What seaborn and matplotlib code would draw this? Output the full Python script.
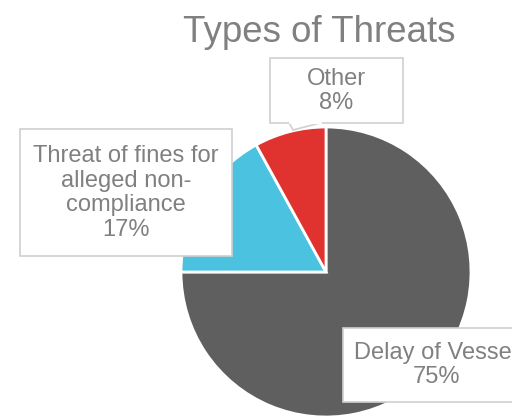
import matplotlib
matplotlib.use('Agg')
import matplotlib.pyplot as plt
import matplotlib.patches as mpatches
import seaborn as sns

# data
categories = ['Delay of Vessel', 'Threat of fines for\nalleged non-\ncompliance', 'Other']
shares = [75, 17, 8]
colors = ['#5f5f5f', '#4bc3e0', '#e0332f']
title = 'Types of Threats'

sns.set_theme(style='white')
plt.rcParams['font.family'] = ['Liberation Sans', 'DejaVu Sans']

W, H = 512, 417
text_color = '#808080'
box_edge = '#d0d0d0'

fig = plt.figure(figsize=(W / 100, H / 100), dpi=100)
fig.set_facecolor('white')
ax = fig.add_axes([0, 0, 1, 1])

# pie in pixel space (y measured from bottom)
cx, cy, r = 326, H - 272, 145
ax.pie(shares, colors=colors, startangle=90, counterclock=False,
       center=(cx, cy), radius=r, frame=True,
       wedgeprops=dict(edgecolor='white', linewidth=2))
ax.set_xlim(0, W)
ax.set_ylim(0, H)
ax.set_aspect('auto')
ax.axis('off')

ax.text(319, H - 32, title, ha='center', va='center', fontsize=26.4, color=text_color)


def label_box(x0, y0, x1, y1, text, tx, ty):
    # box given in pixel coords from top-left
    rect = mpatches.Rectangle((x0, H - y1), x1 - x0, y1 - y0, facecolor='white',
                              edgecolor=box_edge, linewidth=1.2, zorder=5)
    ax.add_patch(rect)
    ax.text(tx, H - ty, text, ha='center', va='center', fontsize=17,
            color=text_color, linespacing=1.15, zorder=6)


labels = [f'{c}\n{s}%' for c, s in zip(categories, shares)]

# Other (with callout pointer)
label_box(270, 58, 403, 123, labels[2], 336.5, 91)
pointer = mpatches.Polygon([(289, H - 122.5), (293, H - 130), (322, H - 122.5)],
                           closed=False, facecolor='white', edgecolor=box_edge,
                           linewidth=1.2, zorder=7)
ax.add_patch(pointer)
ax.plot([289.6, 321.4], [H - 123, H - 123], color='white', linewidth=1.6, zorder=8)

# Threat of fines
label_box(20, 129, 232, 256, labels[1], 126, 193)

# Delay of Vessel (runs off the right edge, as in the source chart)
label_box(343, 328, 530, 402, labels[0], 436, 365)

fig.savefig('out.png', dpi=100)
